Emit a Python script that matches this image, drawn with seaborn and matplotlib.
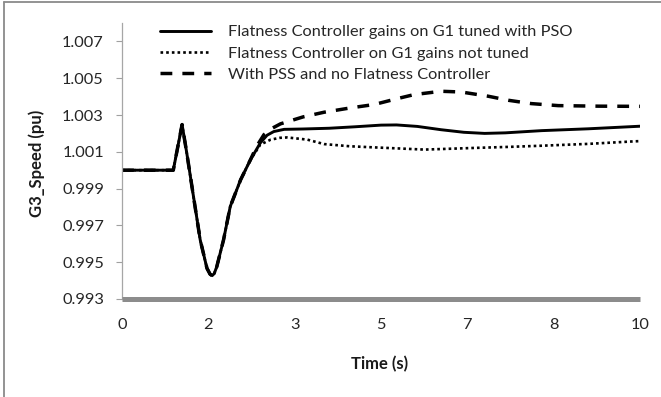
import numpy as np
import pandas as pd
import matplotlib
matplotlib.use("Agg")
import matplotlib.pyplot as plt
from matplotlib.lines import Line2D
import seaborn as sns

# ---------------- data ----------------
labels = ["Flatness Controller gains on G1 tuned with PSO",
          "Flatness Controller on G1 gains not tuned",
          "With PSS and no Flatness Controller"]

t_pso = [0.0, 0.99, 1.16, 1.25, 1.38, 1.51, 1.64, 1.70, 1.74, 1.78, 1.83, 1.96, 2.09,
         2.29, 2.48, 2.67, 2.80, 2.93, 3.13, 3.5, 4.0, 4.5, 5.0, 5.3, 5.7, 6.16, 6.6,
         7.0, 7.4, 8.1, 9.0, 10.0]
y_pso = [1.0000, 1.0000, 1.00248, 1.00094, 0.99857, 0.99621, 0.99467, 0.99435, 0.99427,
         0.99438, 0.99476, 0.99621, 0.99803, 0.99948, 1.00057, 1.00148, 1.00190, 1.00210,
         1.00222, 1.00224, 1.00228, 1.00236, 1.00245, 1.00246, 1.00238, 1.00220, 1.00206,
         1.00200, 1.00203, 1.00215, 1.00225, 1.00239]

t_untuned = [0.0, 0.99, 1.16, 1.25, 1.38, 1.51, 1.64, 1.70, 1.74, 1.78, 1.83, 1.96, 2.09,
             2.29, 2.48, 2.67, 2.87, 3.05, 3.19, 3.58, 3.9, 4.4, 4.87, 5.84, 6.8, 7.5, 8.1,
             9.0, 9.9, 10.0]
y_untuned = [1.0000, 1.0000, 1.00248, 1.00094, 0.99857, 0.99621, 0.99467, 0.99435, 0.99427,
             0.99438, 0.99476, 0.99621, 0.99803, 0.99948, 1.00057, 1.00139, 1.00166, 1.00176,
             1.00178, 1.00166, 1.00142, 1.00130, 1.00124, 1.00112, 1.00121, 1.00127, 1.00133,
             1.00143, 1.00157, 1.00158]

t_pss = [0.0, 0.99, 1.16, 1.25, 1.38, 1.51, 1.64, 1.70, 1.74, 1.78, 1.83, 1.96, 2.09,
         2.29, 2.48, 2.60, 2.74, 2.90, 3.06, 3.5, 3.9, 4.42, 4.87, 5.3, 5.64, 6.16, 6.55,
         7.07, 7.46, 7.9, 8.42, 9.2, 10.0]
y_pss = [1.0000, 1.0000, 1.00248, 1.00094, 0.99857, 0.99621, 0.99467, 0.99435, 0.99427,
         0.99438, 0.99476, 0.99621, 0.99803, 0.99948, 1.00057, 1.00130, 1.00193, 1.00228,
         1.00252, 1.00290, 1.00315, 1.00339, 1.00357, 1.00388, 1.00411, 1.00429, 1.00425,
         1.00402, 1.00380, 1.00362, 1.00351, 1.00348, 1.00347]

x_tick_labels = ["0", "2", "3", "5", "7", "8", "10"]
y_ticks = [0.993, 0.995, 0.997, 0.999, 1.001, 1.003, 1.005, 1.007]

# ---------------- styling ----------------
sns.set_theme(style="white")
plt.rcParams["font.family"] = ["Lato", "DejaVu Sans"]
FS = 11.8

fig = plt.figure(figsize=(6.61, 3.97), dpi=100)
ax = fig.add_axes([122 / 661, 1 - 299 / 397, 518 / 661, 276 / 397])

df_pso = pd.DataFrame({"t": t_pso, "y": y_pso})
df_unt = pd.DataFrame({"t": t_untuned, "y": y_untuned})
df_pss = pd.DataFrame({"t": t_pss, "y": y_pss})

sns.lineplot(data=df_unt, x="t", y="y", ax=ax, color="black", lw=1.9,
             linestyle=(0, (1, 1.15)), label=labels[1], sort=False)
sns.lineplot(data=df_pss, x="t", y="y", ax=ax, color="black", lw=2.5,
             linestyle=(0, (3.4, 2.9)), label=labels[2], sort=False)
sns.lineplot(data=df_pso, x="t", y="y", ax=ax, color="black", lw=2.1,
             linestyle="-", label=labels[0], sort=False)

ax.set_xlim(0, 10)
ax.set_ylim(0.993, 1.008)
ax.set_xticks(np.linspace(0, 10, len(x_tick_labels)))
ax.set_xticklabels(x_tick_labels)
ax.set_yticks(y_ticks)
ax.set_yticklabels([f"{v:.3f}" for v in y_ticks])

ax.tick_params(axis="x", length=0, pad=14, labelsize=FS, labelcolor="#262626")
ax.tick_params(axis="y", length=4, width=0.8, color="#a0a0a0", pad=9,
               labelsize=FS, labelcolor="#262626", left=True)

for s in ["top", "right"]:
    ax.spines[s].set_visible(False)
ax.spines["left"].set_color("#a6a6a6")
ax.spines["left"].set_linewidth(0.9)
ax.spines["bottom"].set_color("#8c8c8c")
ax.spines["bottom"].set_linewidth(3.6)
ax.spines["bottom"].set_capstyle("butt")

ax.set_xlabel("Time (s)", fontsize=12, fontweight="bold", color="#1a1a1a")
ax.set_ylabel("G3_Speed (pu)", fontsize=12, fontweight="bold", color="#1a1a1a")
ax.xaxis.set_label_coords(0.498, -0.205)
ax.yaxis.set_label_coords(-0.148, 0.49)

handles, labs = ax.get_legend_handles_labels()
order = [labs.index(l) for l in labels]
ax.legend([handles[i] for i in order], [labs[i] for i in order],
          loc="upper left", bbox_to_anchor=(0.073, 0.993), frameon=False,
          fontsize=FS, handlelength=3.1, handletextpad=1.05,
          labelspacing=0.42, borderpad=0, borderaxespad=0)

# figure border (left and top edges visible in the reference)
fig.add_artist(Line2D([4 / 661, 4 / 661], [0, 1 - 2 / 397], transform=fig.transFigure,
                      color="#8a8a8a", lw=1.3))
fig.add_artist(Line2D([4 / 661, 1], [1 - 2 / 397, 1 - 2 / 397], transform=fig.transFigure,
                      color="#8a8a8a", lw=1.3))

fig.savefig("out.png", dpi=100)
